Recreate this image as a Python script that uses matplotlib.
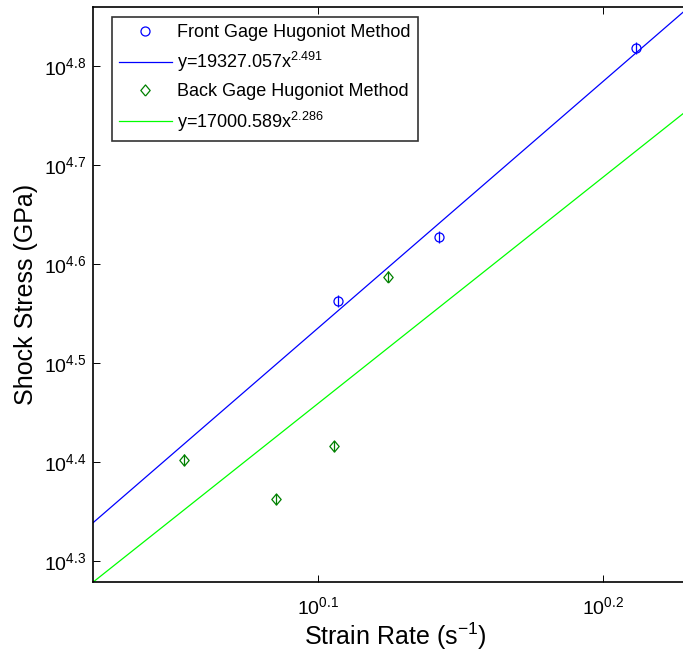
import numpy as np
import matplotlib.pyplot as plt

plt.rcParams['font.family'] = ['Liberation Sans', 'DejaVu Sans']
plt.rcParams['mathtext.default'] = 'regular'

# measured points (strain rate, shock stress)
front_rate = [1.2792, 1.3883, 1.6273]
front_stress = [36528, 42388, 65798]
front_err = [480, 560, 860]

back_rate = [1.1295, 1.2172, 1.2758, 1.3319]
back_stress = [25239, 23036, 26057, 38650]
back_err = [330, 300, 340, 500]

# power law fits y = a*x^b
front_fit = (19327.057, 2.491)
back_fit = (17000.589, 2.286)

xlim = (10**0.021053, 10**0.23298)
ylim = (10**4.27879, 10**4.85960)

# diamond a bit wider than the stock 'd'
diamond = [(0, -0.5), (0.42, 0), (0, 0.5), (-0.42, 0), (0, -0.5)]
dark_green = (0, 0.5, 0)

fig = plt.figure(figsize=(6.83, 6.59), dpi=100)
ax = fig.add_axes([93/683, 77/659, 604/683, 575/659])

xx = np.logspace(np.log10(xlim[0]), np.log10(xlim[1]), 200)

ax.plot(front_rate, front_stress, 'o', ms=6.5, mfc='none', mec='b', mew=0.9,
        label='Front Gage Hugoniot Method')
ax.errorbar(front_rate, front_stress, yerr=front_err, fmt='none', ecolor='b',
            elinewidth=0.9, capsize=0)
ax.plot(xx, front_fit[0]*xx**front_fit[1], color='b', lw=0.9,
        label='y=%.3fx$^{%.3f}$' % front_fit)

ax.plot(back_rate, back_stress, ls='none', marker=diamond, ms=8, mfc='none',
        mec=dark_green, mew=0.9, label='Back Gage Hugoniot Method')
ax.errorbar(back_rate, back_stress, yerr=back_err, fmt='none', ecolor=dark_green,
            elinewidth=0.9, capsize=0)
ax.plot(xx, back_fit[0]*xx**back_fit[1], color=(0, 1, 0), lw=0.9,
        label='y=%.3fx$^{%.3f}$' % back_fit)

ax.set_xscale('log')
ax.set_yscale('log')
ax.set_xlim(xlim)
ax.set_ylim(ylim)

xt = [0.1, 0.2]
yt = [4.3, 4.4, 4.5, 4.6, 4.7, 4.8]
ax.set_xticks([10**v for v in xt])
ax.set_xticklabels(['$10^{%.1f}$' % v for v in xt])
ax.set_yticks([10**v for v in yt])
ax.set_yticklabels(['$10^{%.1f}$' % v for v in yt])
ax.minorticks_off()
ax.tick_params(direction='in', length=5, width=0.7, top=True, right=True,
               labelsize=14, pad=5)
ax.tick_params(axis='x', pad=10)
for s in ax.spines.values():
    s.set_linewidth(1.2)

ax.set_xlabel('Strain Rate (s$^{-1}$)', fontsize=18, labelpad=2)
ax.set_ylabel('Shock Stress (GPa)', fontsize=18, labelpad=4)

leg = ax.legend(loc='upper left', bbox_to_anchor=(112/683, 642/659),
                bbox_transform=fig.transFigure, fontsize=13, frameon=True,
                fancybox=False, edgecolor='k', borderpad=0.4, labelspacing=0.5,
                handlelength=2.9, handletextpad=0.3, borderaxespad=0)
leg.get_frame().set_linewidth(1.2)

fig.savefig('out.png', dpi=100)
